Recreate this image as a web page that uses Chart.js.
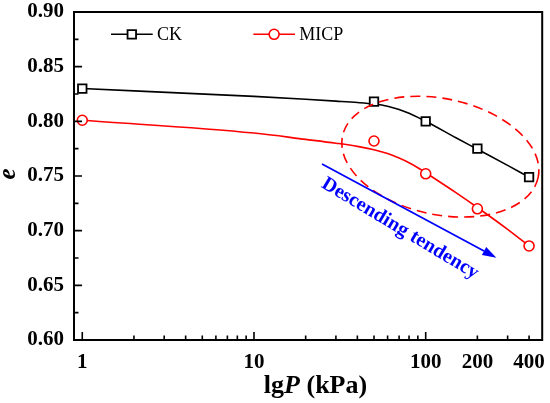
<!DOCTYPE html>
<html><head><meta charset="utf-8">
<script src="https://cdn.jsdelivr.net/npm/chart.js@4.4.0/dist/chart.umd.min.js"></script>
<style>html,body{margin:0;padding:0;background:#fff;} #wrap{width:550px;height:403px;position:relative;}</style>
</head><body><div id="wrap"><canvas id="c"></canvas></div>
<script>
// ---- data ----
const pressures = [1, 50, 100, 200, 400];
const ckValues = [0.830, 0.818, 0.800, 0.775, 0.749];
const micpValues = [0.801, 0.782, 0.752, 0.720, 0.686];
// fitted curves
const fitP = [1, 10, 20, 30, 40, 50, 60, 70, 80, 90, 100, 150, 200, 300, 400];
const ckFitE = [0.830, 0.8228, 0.8202, 0.8185, 0.8172, 0.8158, 0.8138, 0.8108, 0.8073, 0.8036, 0.8000, 0.7850, 0.7745, 0.7597, 0.749];
const micpFitE = [0.801, 0.7893, 0.7835, 0.7800, 0.7771, 0.7740, 0.7705, 0.7664, 0.7621, 0.7576, 0.7530, 0.7348, 0.7212, 0.7012, 0.686];
// axis ticks
const xTickValues = [1,2,3,4,5,6,7,8,9,10,20,30,40,50,60,70,80,90,100,200,300,400];
const xTickLabels = [1, 10, 100, 200, 400];
const xMajorTicks = [1, 10, 100];
const yTickLabels = ['0.60','0.65','0.70','0.75','0.80','0.85','0.90'];
const yMinorTicks = [0.625, 0.675, 0.725, 0.775, 0.825, 0.875];
const seriesNames = ['CK', 'MICP'];
// annotation anchors (data space)
const ellipseCenter = [121.7, 0.7677];
const arrowStart = [24.9, 0.761];
const arrowEnd = [258, 0.6753];
const noteAnchor = [68.5, 0.6979];
const noteText = 'Descending tendency';

const SERIF = '"Liberation Serif", "Times New Roman", serif';
const toXY = (xs, ys) => xs.map((v, i) => ({x: v, y: ys[i]}));

const deco = {
  id: 'deco',
  afterDatasetsDraw(chart) {
    const {ctx, chartArea: a, scales: {x, y}} = chart;
    ctx.save();
    // dashed ellipse
    ctx.strokeStyle = '#ff0000'; ctx.lineWidth = 1.6; ctx.setLineDash([10, 6]);
    ctx.beginPath();
    ctx.ellipse(x.getPixelForValue(ellipseCenter[0]), y.getPixelForValue(ellipseCenter[1]), 100, 58, 12 * Math.PI / 180, 0, 2 * Math.PI);
    ctx.stroke();
    ctx.setLineDash([]);
    // arrow
    const x0 = x.getPixelForValue(arrowStart[0]), y0 = y.getPixelForValue(arrowStart[1]);
    const x1 = x.getPixelForValue(arrowEnd[0]), y1 = y.getPixelForValue(arrowEnd[1]);
    const ang = Math.atan2(y1 - y0, x1 - x0);
    const hl = 14, hw = 4.5;
    ctx.strokeStyle = '#0000ff'; ctx.fillStyle = '#0000ff'; ctx.lineWidth = 1.8;
    ctx.beginPath(); ctx.moveTo(x0, y0);
    ctx.lineTo(x1 - hl * Math.cos(ang), y1 - hl * Math.sin(ang)); ctx.stroke();
    ctx.beginPath(); ctx.moveTo(x1, y1);
    ctx.lineTo(x1 - hl * Math.cos(ang) + hw * Math.sin(ang), y1 - hl * Math.sin(ang) - hw * Math.cos(ang));
    ctx.lineTo(x1 - hl * Math.cos(ang) - hw * Math.sin(ang), y1 - hl * Math.sin(ang) + hw * Math.cos(ang));
    ctx.closePath(); ctx.fill();
    // note text
    ctx.save();
    ctx.translate(x.getPixelForValue(noteAnchor[0]), y.getPixelForValue(noteAnchor[1]));
    ctx.rotate(31 * Math.PI / 180);
    ctx.font = 'bold 20px ' + SERIF; ctx.textAlign = 'center'; ctx.textBaseline = 'alphabetic';
    ctx.fillText(noteText, 0, 0);
    ctx.restore();
    // frame
    ctx.strokeStyle = '#000'; ctx.lineWidth = 2;
    ctx.strokeRect(a.left, a.top, a.right - a.left, a.bottom - a.top);
    // inward ticks
    ctx.lineWidth = 1.6;
    ctx.beginPath();
    xTickValues.forEach(v => {
      const px = x.getPixelForValue(v);
      const len = xMajorTicks.includes(v) ? 8 : 4.5;
      ctx.moveTo(px, a.bottom); ctx.lineTo(px, a.bottom - len);
    });
    yTickLabels.forEach(t => {
      const py = y.getPixelForValue(parseFloat(t));
      ctx.moveTo(a.left, py); ctx.lineTo(a.left + 8, py);
    });
    yMinorTicks.forEach(v => {
      const py = y.getPixelForValue(v);
      ctx.moveTo(a.left, py); ctx.lineTo(a.left + 4.5, py);
    });
    ctx.stroke();
    // legend
    const ds = chart.data.datasets;
    const legendItems = [{x: 111, ds: ds[0]}, {x: 253.3, ds: ds[1]}];
    legendItems.forEach((it, i) => {
      const ly = 34.3;
      ctx.strokeStyle = it.ds.borderColor; ctx.lineWidth = 1.6;
      ctx.beginPath(); ctx.moveTo(it.x, ly); ctx.lineTo(it.x + 41.7, ly); ctx.stroke();
      const mx = it.x + 20.8;
      ctx.fillStyle = '#fff'; ctx.lineWidth = it.ds.pointBorderWidth;
      ctx.beginPath();
      if (it.ds.pointStyle === 'rect') {
        const s = Math.SQRT1_2 * it.ds.pointRadius;
        ctx.rect(mx - s, ly - s, 2 * s, 2 * s);
      } else {
        ctx.arc(mx, ly, it.ds.pointRadius, 0, 2 * Math.PI);
      }
      ctx.fill(); ctx.stroke();
      ctx.fillStyle = '#000'; ctx.font = '18px ' + SERIF; ctx.textAlign = 'left'; ctx.textBaseline = 'alphabetic';
      ctx.fillText(seriesNames[i], it.x + 46, 40);
    });
    // x title: lgP (kPa)
    ctx.fillStyle = '#000'; ctx.textBaseline = 'alphabetic'; ctx.textAlign = 'left';
    const parts = [['lg', 'bold 26px '], ['P', 'italic bold 26px '], [' (kPa)', 'bold 26px ']];
    let total = 0;
    parts.forEach(p => { ctx.font = p[1] + SERIF; total += ctx.measureText(p[0]).width; });
    let tx = 315.5 - total / 2;
    parts.forEach(p => { ctx.font = p[1] + SERIF; ctx.fillText(p[0], tx, 393); tx += ctx.measureText(p[0]).width; });
    // y title: e
    ctx.save();
    ctx.translate(15, 174); ctx.rotate(-Math.PI / 2);
    ctx.font = 'italic bold 25px ' + SERIF; ctx.textAlign = 'center';
    ctx.fillText('e', 0, 0);
    ctx.restore();
    ctx.restore();
  }
};

new Chart(document.getElementById('c'), {
  type: 'line',
  data: {
    datasets: [
      {label: seriesNames[0], data: toXY(pressures, ckValues), showLine: false, borderColor: '#000000',
       pointStyle: 'rect', pointRadius: 6, pointBorderWidth: 1.8, pointBackgroundColor: '#ffffff', pointBorderColor: '#000000'},
      {label: seriesNames[1], data: toXY(pressures, micpValues), showLine: false, borderColor: '#ff0000',
       pointStyle: 'circle', pointRadius: 5, pointBorderWidth: 1.6, pointBackgroundColor: '#ffffff', pointBorderColor: '#ff0000'},
      {label: 'CK fit', data: toXY(fitP, ckFitE), borderColor: '#000000', borderWidth: 1.6, pointRadius: 0,
       cubicInterpolationMode: 'monotone', fill: false},
      {label: 'MICP fit', data: toXY(fitP, micpFitE), borderColor: '#ff0000', borderWidth: 1.6, pointRadius: 0,
       cubicInterpolationMode: 'monotone', fill: false}
    ]
  },
  options: {
    responsive: true, maintainAspectRatio: false, animation: false,
    layout: {padding: {left: 0, right: 6, top: 12, bottom: 0}},
    plugins: {legend: {display: false}, tooltip: {enabled: false}},
    scales: {
      x: {
        type: 'logarithmic', min: 0.895, max: 477,
        afterBuildTicks: s => { s.ticks = xTickValues.map(v => ({value: v})); },
        ticks: {autoSkip: false, maxRotation: 0, minRotation: 0, padding: 10, color: '#000',
          font: {family: SERIF, size: 21, weight: 'bold'},
          callback: v => xTickLabels.includes(v) ? String(v) : ''},
        grid: {display: false, drawTicks: false},
        border: {display: false},
        afterFit: s => { s.height = 63; s.paddingLeft = 0; s.paddingRight = 0; }
      },
      y: {
        min: 0.6, max: 0.9,
        afterBuildTicks: s => { s.ticks = yTickLabels.map(t => ({value: parseFloat(t)})); },
        ticks: {padding: 10, color: '#000', font: {family: SERIF, size: 21, weight: 'bold'},
          callback: (v, i) => yTickLabels[i]},
        grid: {display: false, drawTicks: false},
        border: {display: false},
        afterFit: s => { s.width = 74; s.paddingTop = 0; s.paddingBottom = 0; }
      }
    }
  },
  plugins: [deco]
});
</script>
</body></html>
